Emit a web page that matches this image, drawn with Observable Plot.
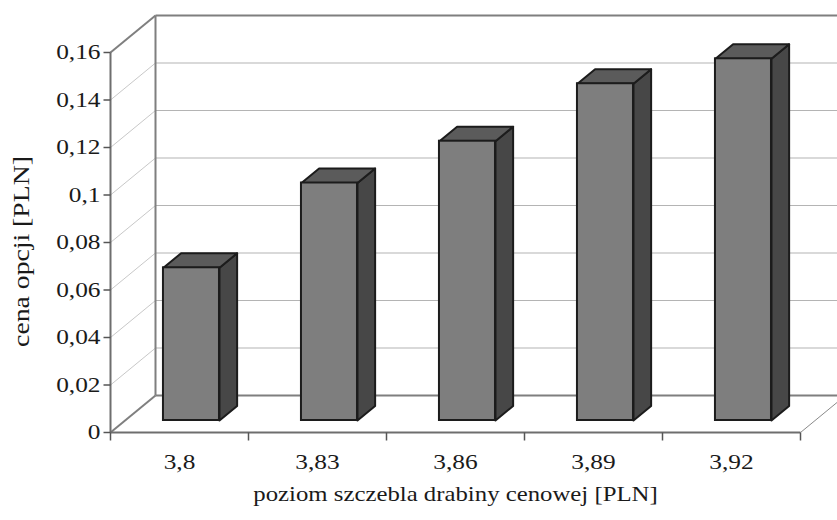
<!DOCTYPE html>
<html>
<head>
<meta charset="utf-8">
<script src="https://cdn.jsdelivr.net/npm/d3@7"></script>
<script src="https://cdn.jsdelivr.net/npm/@observablehq/plot@0.6"></script>
<style>
  html, body { margin: 0; padding: 0; background: #fff; }
</style>
</head>
<body>
<div id="chart"></div>
<script>
// ---- data ----
const categories = ["3,8", "3,83", "3,86", "3,89", "3,92"];
const prices = [0.0643, 0.1, 0.1176, 0.1418, 0.1523];
const yTicks = [0, 0.02, 0.04, 0.06, 0.08, 0.1, 0.12, 0.14, 0.16];
const yTickLabels = ["0", "0,02", "0,04", "0,06", "0,08", "0,1", "0,12", "0,14", "0,16"];
const xTitle = "poziom szczebla drabiny cenowej [PLN]";
const yTitle = "cena opcji [PLN]";

// ---- layout ----
const W = 837, H = 520;
const mL = 110, mR = 37, mT = 52, mB = 88;
const xDomain = [0, categories.length];
const yDomain = [0, 0.16];
const kx = (xDomain[1] - xDomain[0]) / (W - mL - mR);   // data units per px
const ky = (yDomain[1] - yDomain[0]) / (H - mT - mB);
const WX = 45 * kx, WY = 37 * ky;       // wall depth
const f0 = 12 / 37, f1 = 26.5 / 37;     // bar front/back depth fraction
const barStart = 0.278, barWidth = 0.406;

const FONT = "'Liberation Serif', 'Times New Roman', serif";
const wallColor = "#7f7f7f";
const gridColor = "#b4b4b4";
const sideGrid = "#c8c8c8";
const frontC = "#7e7e7e", topC = "#5b5b5b", sideC = "#474747", edgeC = "#1c1c1c";
const textC = "#1a1a1a";

// walls
const backGrid = yTicks.slice(1).map(t => ({x1: WX, x2: xDomain[1] + WX, y: t + WY}));
const sideDiag = yTicks.map(t => ({x1: 0, y1: t, x2: WX, y2: t + WY}));

// bars
const bars = prices.map((v, i) => {
  const x0 = i + barStart + f0 * WX, x1 = x0 + barWidth;
  const y0 = f0 * WY, yt = v + f0 * WY;
  const ddx = (f1 - f0) * WX, ddy = (f1 - f0) * WY;
  return {i, v, x0, x1, y0, yt, ddx, ddy};
});
const topPolys = bars.flatMap(b => [
  {id: b.i, x: b.x0, y: b.yt}, {id: b.i, x: b.x1, y: b.yt},
  {id: b.i, x: b.x1 + b.ddx, y: b.yt + b.ddy}, {id: b.i, x: b.x0 + b.ddx, y: b.yt + b.ddy},
  {id: b.i, x: b.x0, y: b.yt}
]);
const sidePolys = bars.flatMap(b => [
  {id: b.i, x: b.x1, y: b.y0}, {id: b.i, x: b.x1 + b.ddx, y: b.y0 + b.ddy},
  {id: b.i, x: b.x1 + b.ddx, y: b.yt + b.ddy}, {id: b.i, x: b.x1, y: b.yt},
  {id: b.i, x: b.x1, y: b.y0}
]);

const xTickEdges = d3.range(xDomain[0], xDomain[1] + 1);

const chart = Plot.plot({
  width: W, height: H,
  marginLeft: mL, marginRight: mR, marginTop: mT, marginBottom: mB,
  x: {type: "linear", domain: xDomain, axis: null},
  y: {type: "linear", domain: yDomain, axis: null},
  style: {fontFamily: FONT, background: "#fff", color: textC, overflow: "visible"},
  marks: [
    // side wall diagonals (grid)
    Plot.link(sideDiag, {x1: "x1", y1: "y1", x2: "x2", y2: "y2", stroke: (d, i) => i === yTicks.length - 1 || i === 0 ? wallColor : sideGrid, strokeWidth: (d, i) => i === yTicks.length - 1 || i === 0 ? 2 : 1}),
    // back wall gridlines
    Plot.link(backGrid, {x1: "x1", x2: "x2", y1: "y", y2: "y", stroke: (d, i) => i === backGrid.length - 1 ? wallColor : gridColor, strokeWidth: (d, i) => i === backGrid.length - 1 ? 2 : 1.2}),
    // back wall floor line
    Plot.link([{x1: WX, x2: xDomain[1] + WX, y: WY}], {x1: "x1", x2: "x2", y1: "y", y2: "y", stroke: wallColor, strokeWidth: 2}),
    // back wall left edge
    Plot.link([{x: WX, y1: WY, y2: yDomain[1] + WY}], {x1: "x", x2: "x", y1: "y1", y2: "y2", stroke: wallColor, strokeWidth: 2}),
    // floor right diagonal
    Plot.link([{x1: xDomain[1], y1: 0, x2: xDomain[1] + WX, y2: WY}], {x1: "x1", y1: "y1", x2: "x2", y2: "y2", stroke: "#8a8a8a", strokeWidth: 1}),
    // y axis line
    Plot.link([{x: 0, y1: 0, y2: yDomain[1]}], {x1: "x", x2: "x", y1: "y1", y2: "y2", stroke: "#6e6e6e", strokeWidth: 2}),
    // x axis line
    Plot.link([{x1: 0, x2: xDomain[1], y: 0}], {x1: "x1", x2: "x2", y1: "y", y2: "y", stroke: "#6e6e6e", strokeWidth: 2}),
    // y ticks
    Plot.link(yTicks, {x1: -7 * kx, x2: 0, y1: d => d, y2: d => d, stroke: "#555", strokeWidth: 1.5}),
    // x ticks
    Plot.link(xTickEdges, {x1: d => d, x2: d => d, y1: 0, y2: -8 * ky, stroke: "#555", strokeWidth: 1.5}),
    // bars
    Plot.line(sidePolys, {x: "x", y: "y", z: "id", fill: sideC, stroke: edgeC, strokeWidth: 2, strokeLinejoin: "round"}),
    Plot.line(topPolys, {x: "x", y: "y", z: "id", fill: topC, stroke: edgeC, strokeWidth: 2, strokeLinejoin: "round"}),
    Plot.rect(bars, {x1: "x0", x2: "x1", y1: "y0", y2: "yt", fill: frontC, stroke: edgeC, strokeWidth: 2}),
    // y tick labels
    Plot.text(yTicks, {x: 0, y: d => d, text: (d, i) => yTickLabels[i], textAnchor: "end", dx: -10, fontSize: 21.5, fill: textC}),
    // x tick labels
    Plot.text(categories, {x: (d, i) => i + 0.5, y: 0, text: d => d, dy: 30, fontSize: 21.5, fill: textC}),
    // axis titles
    Plot.text([xTitle], {frameAnchor: "bottom", textAnchor: "middle", dy: 68, fontSize: 21, fill: textC}),
    Plot.text([yTitle], {frameAnchor: "left", textAnchor: "middle", rotate: -90, dx: -89, dy: 9, fontSize: 23.5, fill: textC})
  ]
});
// the print lettering is horizontally stretched: widen each text along its baseline
const STRETCH = 1.18;
d3.select(chart).selectAll("text").each(function () {
  const el = d3.select(this);
  const t = el.attr("transform") || "";
  el.attr("transform", `${t} scale(${STRETCH},1)`);
});
document.getElementById("chart").appendChild(chart);
</script>
</body>
</html>
